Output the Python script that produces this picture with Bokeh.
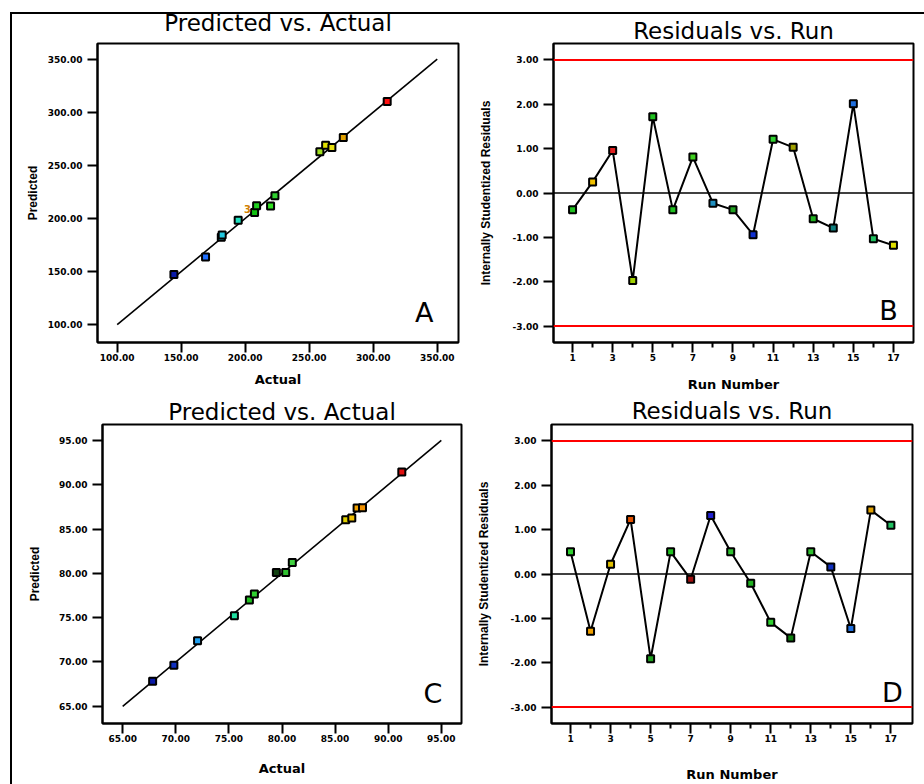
from bokeh.plotting import figure
from bokeh.models import Range1d, FixedTicker, Span, Label, NumeralTickFormatter, InlineStyleSheet
from bokeh.layouts import column, row
from bokeh.embed import file_html
from bokeh.resources import INLINE
from bokeh.core.properties import value

# ---------------- data ----------------
# Panel A: Predicted vs. Actual (response 1)
a_actual = [144.3, 169.0, 181.3, 182.0, 194.5, 207.3, 208.9, 219.8, 223.2, 258.3, 262.8, 267.7, 276.6, 310.9]
a_pred = [147.2, 163.8, 182.4, 184.3, 198.4, 205.7, 212.0, 211.6, 221.4, 262.9, 268.9, 266.7, 276.1, 310.1]
a_colors = ["#0a1aa8", "#1f6fff", "#1aa6b8", "#20c8e0", "#20e0c0", "#10c010", "#20d020",
            "#30e020", "#30d030", "#a0e020", "#e0e000", "#e8e010", "#e0a000", "#ff1010"]
a_ticks = [100, 150, 200, 250, 300, 350]

# Panel B: Residuals vs. Run (response 1)
runs = list(range(1, 18))
b_resid = [-0.38, 0.25, 0.96, -1.97, 1.72, -0.38, 0.81, -0.23, -0.38, -0.94,
           1.21, 1.03, -0.58, -0.79, 2.01, -1.03, -1.18]
b_colors = ["#20c020", "#f0c000", "#e02020", "#a0d000", "#20c020", "#20c020", "#40d020",
            "#2090c0", "#20a020", "#1030d0", "#30d030", "#a0a000", "#20b020", "#108080",
            "#2070e0", "#20c060", "#e0e000"]

# Panel C: Predicted vs. Actual (response 2)
c_actual = [67.82, 69.82, 72.05, 75.52, 76.93, 77.40, 79.47, 80.35, 80.97, 86.00, 86.57, 87.07, 87.58, 91.28]
c_pred = [67.82, 69.62, 72.41, 75.23, 76.99, 77.67, 80.11, 80.11, 81.24, 86.05, 86.24, 87.37, 87.41, 91.43]
c_colors = ["#0a1aa8", "#1030c0", "#20a0f0", "#20e0a0", "#20c020", "#30d030", "#104010",
            "#30c030", "#40d040", "#e0d000", "#f0c000", "#f0a000", "#f09000", "#e01010"]
c_ticks = [65, 70, 75, 80, 85, 90, 95]

# Panel D: Residuals vs. Run (response 2)
d_resid = [0.50, -1.29, 0.22, 1.23, -1.91, 0.50, -0.12, 1.32, 0.50, -0.21,
           -1.09, -1.44, 0.50, 0.16, -1.23, 1.44, 1.10]
d_colors = ["#30d030", "#f0a000", "#e0c000", "#e05000", "#20a020", "#20c020", "#a01010",
            "#2020d0", "#30c030", "#20b020", "#30d030", "#108010", "#30c030", "#1030c0",
            "#2070e0", "#e0a000", "#20c060"]
resid_ticks = [-3, -2, -1, 0, 1, 2, 3]
run_ticks = [1, 3, 5, 7, 9, 11, 13, 15, 17]
run_minor = [2, 4, 6, 8, 10, 12, 14, 16]
limit = 3.0

TICK_FONT = "DejaVu Sans"
XLAB_FONT = "DejaVu Sans"
YLAB_FONT = "Liberation Sans"


def base_fig(title, t_so, w, h, xr, yr, mb, xlabel, ylabel, xl_standoff, yl_standoff):
    p = figure(width=w, height=h, x_range=Range1d(*xr), y_range=Range1d(*yr),
               output_backend="svg", toolbar_location=None, title=title,
               min_border_left=mb[0], min_border_right=mb[1],
               min_border_top=mb[2], min_border_bottom=mb[3])
    p.grid.visible = False
    p.outline_line_color = "black"
    p.outline_line_width = 2
    p.background_fill_color = "white"
    p.border_fill_color = "white"
    p.title.text_font = "DejaVu Sans"
    p.title.text_font_size = "23px"
    p.title.text_font_style = "normal"
    p.title.align = "center"
    p.title.vertical_align = "top"
    p.title.text_color = "black"
    p.title.standoff = t_so
    for ax in (p.xaxis[0], p.yaxis[0]):
        ax.axis_line_color = "black"
        ax.axis_line_width = 2
        ax.major_tick_out = 10
        ax.major_tick_in = 0
        ax.major_tick_line_width = 2
        ax.minor_tick_line_color = None
        ax.major_label_text_font = TICK_FONT
        ax.major_label_text_font_size = "9px"
        ax.major_label_text_font_style = "bold"
        ax.major_label_text_color = "black"
        ax.axis_label_text_font_style = "bold"
        ax.axis_label_text_color = "black"
    p.xaxis[0].axis_label = xlabel
    p.xaxis[0].axis_label_text_font = XLAB_FONT
    p.xaxis[0].axis_label_text_font_size = "13px"
    p.xaxis[0].major_label_standoff = 1
    p.xaxis[0].axis_label_standoff = xl_standoff
    p.yaxis[0].axis_label = ylabel
    p.yaxis[0].axis_label_text_font = YLAB_FONT
    p.yaxis[0].axis_label_text_font_size = "12px"
    p.yaxis[0].major_label_standoff = 5
    p.yaxis[0].axis_label_standoff = yl_standoff
    return p


def pva(t_so, w, h, xr, yr, mb, ticks, actual, pred, colors, letter, lx, ly, xl_so, yl_so):
    p = base_fig("Predicted vs. Actual", t_so, w, h, xr, yr, mb, "Actual", "Predicted", xl_so, yl_so)
    p.xaxis[0].ticker = FixedTicker(ticks=ticks)
    p.yaxis[0].ticker = FixedTicker(ticks=ticks)
    p.xaxis[0].formatter = NumeralTickFormatter(format="0.00")
    p.yaxis[0].formatter = NumeralTickFormatter(format="0.00")
    p.line([ticks[0], ticks[-1]], [ticks[0], ticks[-1]], line_color="black", line_width=1.6)
    p.scatter(actual, pred, marker="square", size=7, fill_color=colors,
              line_color="black", line_width=2)
    p.add_layout(Label(x=lx, y=ly, text=letter, text_font="DejaVu Sans", text_font_size="27px",
                       text_align="right", text_baseline="alphabetic", text_color="black"))
    return p


def rvr(t_so, w, h, xr, mb, resid, colors, letter, lx, ly, xl_so, yl_so):
    p = base_fig("Residuals vs. Run", t_so, w, h, xr, (-3.37, 3.37), mb, "Run Number",
                 "Internally Studentized Residuals", xl_so, yl_so)
    p.xaxis[0].ticker = FixedTicker(ticks=run_ticks, minor_ticks=run_minor)
    p.xaxis[0].minor_tick_line_color = "black"
    p.xaxis[0].minor_tick_line_width = 2
    p.xaxis[0].minor_tick_out = 5
    p.xaxis[0].minor_tick_in = 0
    p.yaxis[0].ticker = FixedTicker(ticks=resid_ticks)
    p.yaxis[0].formatter = NumeralTickFormatter(format="0.00")
    p.add_layout(Span(location=limit, dimension="width", line_color="red", line_width=2))
    p.add_layout(Span(location=-limit, dimension="width", line_color="red", line_width=2))
    p.add_layout(Span(location=0, dimension="width", line_color="black", line_width=1.6))
    p.line(runs, resid, line_color="black", line_width=2)
    p.scatter(runs, resid, marker="square", size=7, fill_color=colors,
              line_color="black", line_width=2)
    p.add_layout(Label(x=lx, y=ly, text=letter, text_font="DejaVu Sans", text_font_size="27px",
                       text_align="right", text_baseline="alphabetic", text_color="black"))
    return p


pA = pva(12, 470, 398, (84.6, 366.6), (83.2, 364.7), (97, 12, 41, 56),
         a_ticks, a_actual, a_pred, a_colors, "A", 347.1, 111.2, 8, 5)
pA.text(x=[204.5], y=[209.0], text=["3"], text_font=value("DejaVu Sans"), text_font_size="10px",
        text_font_style="bold", text_color="#d08000", text_align="right", text_baseline="alphabetic")

pB = rvr(-4, 454, 398, (0.05, 18.0), (83, 11, 43, 54), b_resid, b_colors, "B", 17.22, -2.645, 13, 17)

pC = pva(-4, 470, 386, (63.1, 96.9), (63.06, 96.8), (102, 9, 25, 60),
         c_ticks, c_actual, c_pred, c_colors, "C", 95.1, 66.42, 16, 14)

pD = rvr(-3, 454, 386, (0.05, 18.08), (81, 12, 26, 60), d_resid, d_colors, "D", 17.6, -2.665, 22, 17)

frame_css = InlineStyleSheet(css="""
:host { position: relative; }
:host::after {
  content: '';
  position: absolute;
  left: 10px; top: 12px; right: 0px; bottom: 0px;
  border-left: 2px solid black;
  border-top: 2px solid black;
  pointer-events: none;
  z-index: 100;
}
""")

layout = column(row(pA, pB), row(pC, pD), stylesheets=[frame_css])

open("out.html", "w").write(file_html(layout, INLINE))
